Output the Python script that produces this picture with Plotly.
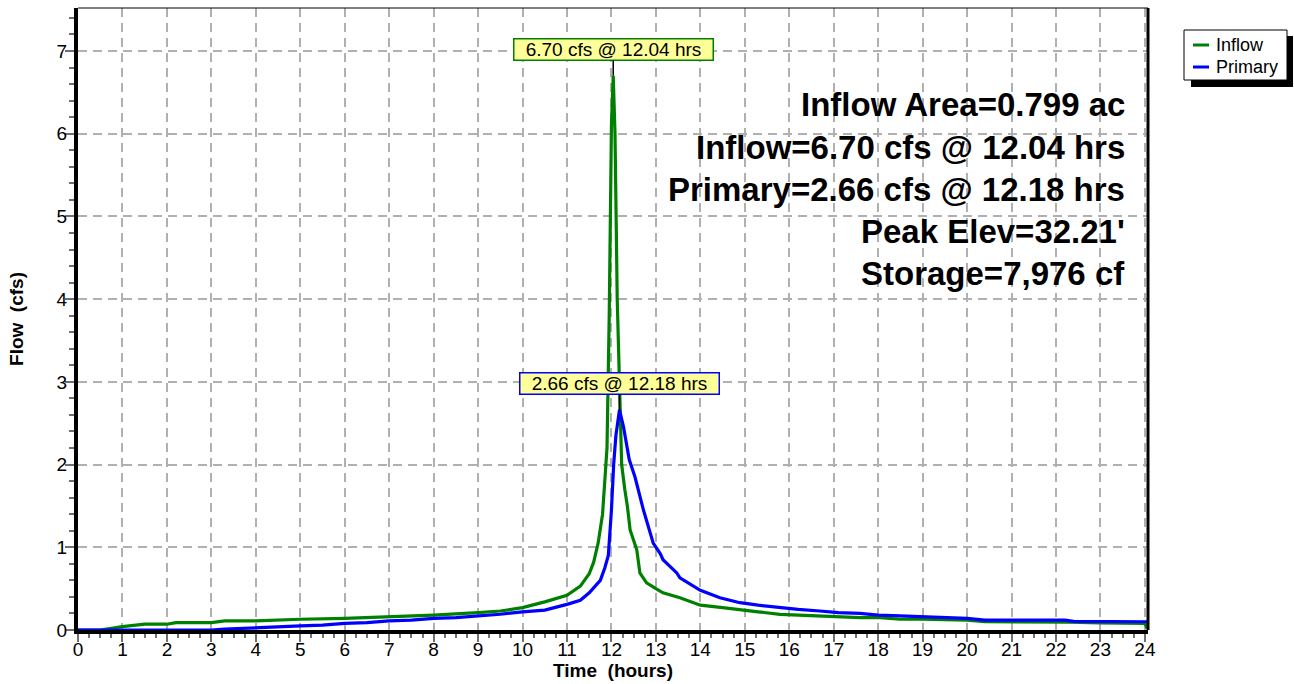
import plotly.graph_objects as go

# ---- data ----
inflow_t = [0, 0.5, 1.0, 1.2, 1.5, 2.0, 2.2, 3.0, 3.3, 4.0, 4.5, 5.0, 6.0, 6.5, 7.0, 8.0,
            9.0, 9.5, 10.0, 10.5, 11.0, 11.3, 11.5, 11.6, 11.7, 11.8, 11.85, 11.9, 11.95,
            12.0, 12.04, 12.08, 12.13, 12.18, 12.23, 12.3, 12.36, 12.42, 12.5, 12.57,
            12.64, 12.79, 13.0, 13.16, 13.54, 14.0, 14.5, 14.89, 15.3, 15.79, 16.2, 16.69,
            17.1, 17.59, 18.04, 18.49, 19.0, 20.0, 20.4, 21.0, 22.0, 22.3, 23.0, 23.5,
            24.0, 24.05]
inflow_q = [0, 0.0, 0.04, 0.05, 0.07, 0.07, 0.09, 0.09, 0.11, 0.11, 0.12, 0.13, 0.14, 0.15,
            0.16, 0.18, 0.21, 0.23, 0.27, 0.34, 0.42, 0.53, 0.68, 0.82, 1.05, 1.4, 1.8,
            2.2, 3.8, 6.1, 6.70, 6.0, 4.0, 2.8, 2.0, 1.7, 1.49, 1.21, 1.08, 0.97, 0.69,
            0.57, 0.5, 0.45, 0.39, 0.30, 0.27, 0.25, 0.22, 0.19, 0.18, 0.17, 0.16, 0.15,
            0.15, 0.13, 0.13, 0.12, 0.10, 0.10, 0.10, 0.095, 0.085, 0.085, 0.08, 0.02]

primary_t = [0, 3.0, 3.3, 4.0, 4.5, 5.0, 5.5, 6.0, 6.5, 7.0, 7.5, 8.0, 8.5, 9.0, 9.5, 10.0,
             10.5, 11.0, 11.3, 11.5, 11.75, 11.85, 11.93, 12.0, 12.05, 12.1, 12.18, 12.27,
             12.4, 12.53, 12.63, 12.72, 12.94, 13.1, 13.16, 13.47, 13.54, 14.0, 14.44,
             14.89, 15.3, 15.79, 16.2, 16.69, 17.1, 17.59, 18.0, 18.49, 19.0, 20.0, 20.4,
             22.2, 22.4, 23.0, 24.0, 24.05]
primary_q = [0, 0.0, 0.01, 0.03, 0.04, 0.05, 0.06, 0.08, 0.09, 0.11, 0.12, 0.14, 0.15, 0.17,
             0.19, 0.22, 0.24, 0.31, 0.36, 0.45, 0.6, 0.75, 0.9, 1.45, 2.0, 2.35, 2.66, 2.46,
             2.06, 1.85, 1.65, 1.45, 1.05, 0.92, 0.85, 0.69, 0.63, 0.48, 0.39, 0.33, 0.30,
             0.27, 0.25, 0.23, 0.21, 0.20, 0.18, 0.17, 0.16, 0.14, 0.12, 0.12, 0.105, 0.10,
             0.10, 0.10]

series_names = ["Inflow", "Primary"]
inflow_peak = (12.04, 6.70)
primary_peak = (12.18, 2.66)

summary_lines = ["Inflow Area=0.799 ac", "Inflow=6.70 cfs @ 12.04 hrs",
                 "Primary=2.66 cfs @ 12.18 hrs", "Peak Elev=32.21'", "Storage=7,976 cf"]

x_ticks = list(range(0, 25))
y_ticks = list(range(0, 8))

FONT = "Liberation Sans, Arial, sans-serif"
GREEN = "#008000"
BLUE = "#0000ff"

W, H = 1294, 684
ML, MR, MT, MB = 78, 146, 8, 54
PW, PH = W - ML - MR, H - MT - MB


def px_x(p):
    return (p - ML) / PW


def px_y(p):
    return (H - MB - p) / PH


fig = go.Figure()
fig.add_trace(go.Scatter(x=inflow_t, y=inflow_q, mode="lines", name=series_names[0],
                         line=dict(color=GREEN, width=3.2)))
fig.add_trace(go.Scatter(x=primary_t, y=primary_q, mode="lines", name=series_names[1],
                         line=dict(color=BLUE, width=3.2)))

grid = dict(showgrid=True, gridcolor="#b0b0b0", gridwidth=1.5, griddash="9px,6px")

fig.update_xaxes(range=[0, 24.07], tickvals=x_ticks, ticktext=[str(v) for v in x_ticks],
                 ticks="outside", ticklen=8, tickcolor="#707070", tickwidth=1.5,
                 ticklabelstandoff=-9,
                 showline=True, linecolor="black", linewidth=4, automargin=False,
                 tickfont=dict(family=FONT, size=19, color="black"),
                 minor=dict(dtick=0.25, ticks="outside", ticklen=4, tickcolor="#707070",
                            tickwidth=1.5, showgrid=False),
                 title=dict(text="<b>Time\u00a0 (hours)</b>", standoff=6,
                            font=dict(family=FONT, size=19, color="black")),
                 zeroline=False, **grid)
fig.update_yaxes(range=[0, 7.52], tickvals=y_ticks, ticktext=[str(v) for v in y_ticks],
                 ticks="outside", ticklen=9, tickcolor="#707070", tickwidth=1.5,
                 ticklabelstandoff=-6,
                 showline=True, linecolor="black", linewidth=4, automargin=False,
                 tickfont=dict(family=FONT, size=19, color="black"),
                 minor=dict(dtick=0.2, ticks="outside", ticklen=5, tickcolor="#707070",
                            tickwidth=1.5, showgrid=False),
                 title=dict(text="<b>Flow\u00a0 (cfs)</b>", standoff=29,
                            font=dict(family=FONT, size=19, color="black")),
                 zeroline=False, **grid)

shapes = [
    dict(type="line", xref="paper", yref="paper", x0=0, x1=1, y0=1, y1=1,
         line=dict(color="black", width=1)),
    dict(type="line", xref="paper", yref="paper", x0=1, x1=1, y0=0, y1=1,
         line=dict(color="black", width=3)),
    # legend: shadow, box, sample lines
    dict(type="rect", xref="paper", yref="paper", x0=px_x(1191), x1=px_x(1293),
         y0=px_y(87), y1=px_y(36), fillcolor="black", line=dict(width=0), layer="above"),
    dict(type="rect", xref="paper", yref="paper", x0=px_x(1184), x1=px_x(1287),
         y0=px_y(80), y1=px_y(30), fillcolor="white", line=dict(color="black", width=1),
         layer="above"),
    dict(type="line", xref="paper", yref="paper", x0=px_x(1193), x1=px_x(1209),
         y0=px_y(45), y1=px_y(45), line=dict(color=GREEN, width=3), layer="above"),
    dict(type="line", xref="paper", yref="paper", x0=px_x(1193), x1=px_x(1209),
         y0=px_y(67), y1=px_y(67), line=dict(color=BLUE, width=3), layer="above"),
]

annotations = []
for name, yy in zip(series_names, [45, 67]):
    annotations.append(dict(
        x=px_x(1214), y=px_y(yy), xref="paper", yref="paper", xanchor="left",
        yanchor="middle", text=name, showarrow=False,
        font=dict(family=FONT, size=18, color="black")))

for (pt, pq), col in ((inflow_peak, GREEN), (primary_peak, BLUE)):
    annotations.append(dict(
        x=pt, y=pq, xref="x", yref="y", ax=0, ay=-26,
        text=f"{pq:.2f} cfs @ {pt:.2f} hrs", showarrow=True, arrowhead=0,
        arrowwidth=1.5, arrowcolor="black", bgcolor="#ffff99", bordercolor=col,
        borderwidth=1.5, borderpad=0, width=198, height=20,
        font=dict(family=FONT, size=19, color="black")))

line_y = [104, 147, 189, 232, 274]
for txt, yy in zip(summary_lines, line_y):
    annotations.append(dict(
        x=px_x(1127), y=px_y(yy), xref="paper", yref="paper", xanchor="right",
        yanchor="middle", text=f"<b>{txt}</b>", showarrow=False,
        font=dict(family=FONT, size=33, color="black")))

fig.update_layout(
    width=W, height=H, autosize=False,
    margin=dict(l=ML, r=MR, t=MT, b=MB, autoexpand=False),
    paper_bgcolor="white", plot_bgcolor="white",
    shapes=shapes, annotations=annotations,
    showlegend=False,
)

fig.write_html("out.html", config={"displayModeBar": False},
               post_script="document.body.style.margin='0px';")
